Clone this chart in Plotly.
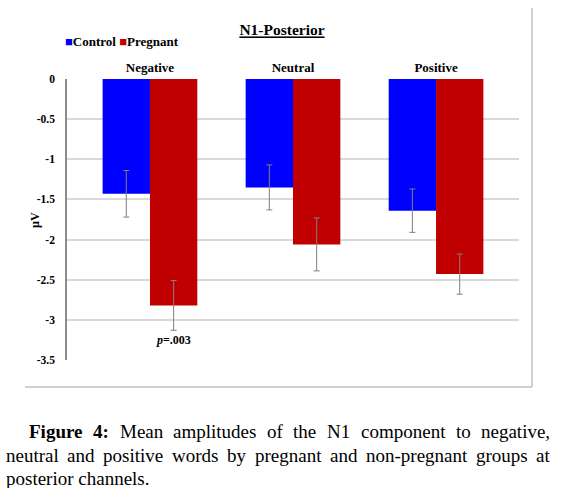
import plotly.graph_objects as go

# data
categories = ["Negative", "Neutral", "Positive"]
control = [-1.43, -1.35, -1.64]
pregnant = [-2.82, -2.06, -2.43]
control_err = [0.29, 0.28, 0.27]
pregnant_err = [0.31, 0.33, 0.25]
y_ticks = [0, -0.5, -1, -1.5, -2, -2.5, -3, -3.5]
y_tick_labels = ["0", "-0.5", "-1", "-1.5", "-2", "-2.5", "-3", "-3.5"]
series_names = ["Control", "Pregnant"]
series_colors = ["#0000FF", "#C00000"]

caption_lines = [
    ["Figure", "4:", "Mean", "amplitudes", "of", "the", "N1",
     "component", "to", "negative,"],
    ["neutral", "and", "positive", "words", "by", "pregnant", "and",
     "non-pregnant", "groups", "at"],
    ["posterior channels."],
]
caption_bold = {"Figure", "4:"}

FONT = "Liberation Serif"
W, H = 564, 488
L, R, T, B = 67, 45, 79, 128
PW, PH = W - L - R, H - T - B


def px(xp):
    return (xp - L) / PW


def py(yp):
    return (H - B - yp) / PH


# Times / Liberation Serif advance widths (1/1000 em), used to justify the caption
ROMAN = {" ": 250, ",": 250, "-": 333, ".": 250, ":": 278, "1": 500, "4": 500,
         "a": 444, "b": 500, "c": 444, "d": 500, "e": 444, "f": 333, "g": 500,
         "h": 500, "i": 278, "l": 278, "m": 778, "n": 500, "o": 500, "p": 500,
         "r": 333, "s": 389, "t": 278, "u": 500, "v": 500, "w": 722, "y": 500,
         "F": 556, "M": 889, "N": 722}
BOLD = {"F": 611, "i": 278, "g": 500, "u": 556, "r": 444, "e": 444, "4": 500, ":": 333}


def text_width(word, size):
    table = BOLD if word in caption_bold else ROMAN
    return sum(table[ch] for ch in word) * size / 1000


err_style = dict(type="data", color="#7f7f7f", thickness=1, width=3)

fig = go.Figure()
fig.add_trace(go.Bar(
    x=categories, y=control, name=series_names[0],
    marker=dict(color=series_colors[0], line=dict(width=0)),
    error_y=dict(array=control_err, **err_style),
))
fig.add_trace(go.Bar(
    x=categories, y=pregnant, name=series_names[1],
    marker=dict(color=series_colors[1], line=dict(width=0)),
    error_y=dict(array=pregnant_err, **err_style),
))

fig.update_layout(
    width=W, height=H,
    margin=dict(l=L, r=R, t=T, b=B),
    paper_bgcolor="white", plot_bgcolor="white",
    barmode="group", bargap=0.338, bargroupgap=0,
    showlegend=False,
    font=dict(family=FONT, color="black"),
    title=dict(text="<b><u>N1-Posterior</u></b>", x=0.5, xanchor="center",
               y=1 - 30 / H, yanchor="middle", font=dict(size=15.5, family=FONT)),
    xaxis=dict(side="top", type="category", categoryarray=categories,
               range=[-0.58, 2.58], showgrid=False, zeroline=False,
               showline=False, ticks="", ticklabelstandoff=3,
               tickfont=dict(size=13, family=FONT, weight="bold")),
    yaxis=dict(range=[-3.5, 0], tickvals=y_ticks, ticktext=y_tick_labels,
               showgrid=True, gridcolor="#d9d9d9", gridwidth=1.5,
               zeroline=False, showline=True, linecolor="#8c8c8c",
               linewidth=1.5, ticks="", ticklabelstandoff=8,
               tickfont=dict(size=11.5, family=FONT, weight="bold")),
)

# y axis title
fig.add_annotation(text="<b>µV</b>", textangle=-90, xref="paper", yref="paper",
                   x=px(35), y=py(220), xanchor="center", yanchor="middle",
                   showarrow=False, font=dict(size=12, family=FONT))

# legend drawn as text row
legend_text = " ".join(
    f"<span style='color:{c}'>■</span>{n}" for n, c in zip(series_names, series_colors)
)
fig.add_annotation(text=f"<b>{legend_text}</b>", xref="paper", yref="paper",
                   x=px(63), y=py(41), xanchor="left", yanchor="middle",
                   showarrow=False, font=dict(size=13, family=FONT))

# significance note under the pregnant negative bar
fig.add_annotation(text="<b><i>p</i>=.003</b>", xref="x", yref="y",
                   x=0.165, y=-3.25, showarrow=False,
                   font=dict(size=12, family=FONT))

# chart frame (right and bottom edges visible)
frame = dict(color="#c0c0c0", width=1.5)
fig.add_shape(type="line", xref="paper", yref="paper",
              x0=px(532), x1=px(532), y0=py(8), y1=py(387), line=frame)
fig.add_shape(type="line", xref="paper", yref="paper",
              x0=px(25), x1=px(532), y0=py(387), y1=py(387), line=frame)

# caption: justified lines (last line left aligned), one annotation per word
CAP_SIZE = 19
line_start = [27, 4, 4]
line_end = 548
line_y = [431.7, 455, 478]
for i, (words, x0, yv) in enumerate(zip(caption_lines, line_start, line_y)):
    widths = [text_width(w, CAP_SIZE) for w in words]
    if i < len(caption_lines) - 1 and len(words) > 1:
        gap = (line_end - x0 - sum(widths)) / (len(words) - 1)
    else:
        gap = 0
    xcur = x0
    for w, wd in zip(words, widths):
        label = f"<b>{w}</b>" if w in caption_bold else w
        fig.add_annotation(text=label, xref="paper", yref="paper",
                           x=px(xcur), y=py(yv), xanchor="left", yanchor="middle",
                           showarrow=False, font=dict(size=CAP_SIZE, family=FONT))
        xcur += wd + gap

# drop the page's default body margin so the figure sits at the window corner
fig.write_html("out.html", config={"displayModeBar": False},
               post_script="document.body.style.margin='0px';")
